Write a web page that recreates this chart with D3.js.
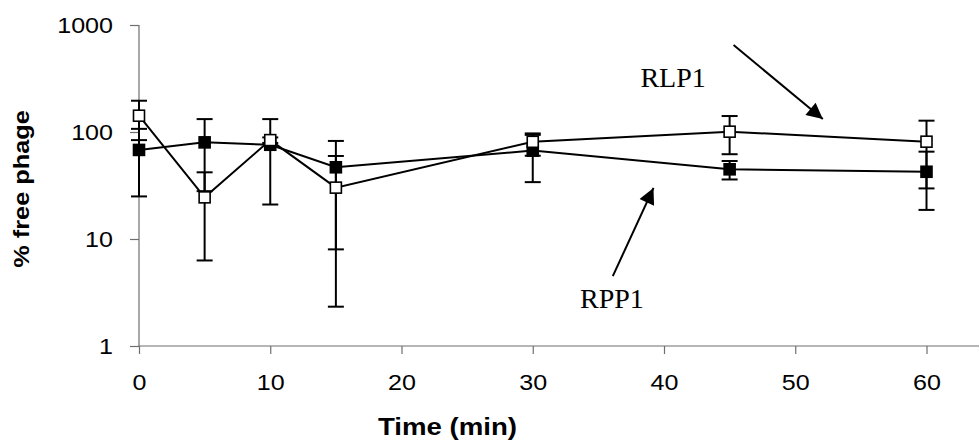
<!DOCTYPE html>
<html>
<head>
<meta charset="utf-8">
<script src="https://cdn.jsdelivr.net/npm/d3@7"></script>
<style>
  html, body { margin: 0; padding: 0; background: #fff; }
  svg { display: block; }
</style>
</head>
<body>
<svg id="chart" width="979" height="443"></svg>
<script>
// ---- data ----
const times = [0, 5, 10, 15, 30, 45, 60];
const rpp1Mean = [68, 80, 76, 46.8, 67, 44.8, 42.5];
const rpp1High = [107, 132, 132, 82.5, 97, 53.6, 65.5];
const rpp1Low  = [25, 28, 21, 8, 34, 36, 18.7];
const rlp1Mean = [142, 24.5, 84, 30.2, 81, 100.7, 81.2];
const rlp1High = [196, 42, 89, 59.7, 94, 141, 127.6];
const rlp1Low  = [84, 6.3, 79, 2.33, 60, 62, 29.7];
const xTicks = [0, 10, 20, 30, 40, 50, 60];
const yTicks = [1, 10, 100, 1000];
const annotations = [
  { label: "RLP1", tx: 38.2, ty: 263, x1: 45.3, y1: 650, x2: 52.1, y2: 132 },
  { label: "RPP1", tx: 33.6, ty: 2.26, x1: 36.1, y1: 4.5, x2: 39.2, y2: 30 }
];

const svg = d3.select("#chart");
const x = d3.scaleLinear().domain([0, 64]).range([139, 979]);
const y = d3.scaleLog().domain([1, 1000]).range([346, 25]);

const axisColor = "#6f6f6f";
const sans = "Liberation Sans, Arial, sans-serif";

function stretch(sel, k) {
  sel.each(function () {
    const L = this.getComputedTextLength();
    d3.select(this).attr("textLength", L * k).attr("lengthAdjust", "spacingAndGlyphs");
  });
}

// axes
const xAxis = svg.append("g").attr("transform", `translate(0,${y(1)})`)
  .call(d3.axisBottom(x).tickValues(xTicks).tickSize(8).tickPadding(20).tickFormat(d3.format("d")));
const yAxis = svg.append("g").attr("transform", `translate(${x(0)},0)`)
  .call(d3.axisLeft(y).tickValues(yTicks).tickSize(9).tickPadding(17).tickFormat(d3.format("d")));
[xAxis, yAxis].forEach(g => {
  g.select(".domain").attr("stroke", axisColor).attr("stroke-width", 1.2);
  g.selectAll(".tick line").attr("stroke", axisColor).attr("stroke-width", 1.2);
  g.selectAll(".tick text").attr("fill", "#000")
    .style("font-family", sans).style("font-size", "22px").call(stretch, 1.14);
});
xAxis.select(".domain").attr("d", `M${x(0)},0H${x(64)}`);
yAxis.select(".domain").attr("d", `M0,${y(1000)}V${y(1)}`);

// titles
svg.append("text").attr("x", x(23.5)).attr("y", 435).attr("text-anchor", "middle")
  .style("font-family", sans).style("font-weight", "bold").style("font-size", "23px")
  .text("Time (min)").call(stretch, 1.2);
svg.append("text").attr("transform", `translate(29,189) rotate(-90)`).attr("text-anchor", "middle")
  .style("font-family", sans).style("font-weight", "bold").style("font-size", "22px")
  .text("% free phage").call(stretch, 1.15);

function drawSeries(mean, low, high, filled) {
  const g = svg.append("g");
  const pts = times.map((t, i) => ({ t, m: mean[i], lo: low[i], hi: high[i] }));
  const capW = 8;
  pts.forEach(p => {
    g.append("line").attr("x1", x(p.t)).attr("x2", x(p.t)).attr("y1", y(p.lo)).attr("y2", y(p.hi))
      .attr("stroke", "#000").attr("stroke-width", 2);
    [p.lo, p.hi].forEach(v => g.append("line").attr("x1", x(p.t) - capW).attr("x2", x(p.t) + capW)
      .attr("y1", y(v)).attr("y2", y(v)).attr("stroke", "#000").attr("stroke-width", 2));
  });
  g.append("path").datum(pts)
    .attr("d", d3.line().x(p => x(p.t)).y(p => y(p.m)))
    .attr("fill", "none").attr("stroke", "#000").attr("stroke-width", 2);
  const s = 11;
  g.selectAll("rect").data(pts).join("rect")
    .attr("x", p => x(p.t) - s / 2).attr("y", p => y(p.m) - s / 2)
    .attr("width", s).attr("height", s)
    .attr("fill", filled ? "#000" : "#fff").attr("stroke", "#000").attr("stroke-width", 1.6);
}
drawSeries(rpp1Mean, rpp1Low, rpp1High, true);
drawSeries(rlp1Mean, rlp1Low, rlp1High, false);

// annotations
svg.append("defs").append("marker").attr("id", "ah")
  .attr("viewBox", "0 0 10 10").attr("refX", 10).attr("refY", 5)
  .attr("markerWidth", 9).attr("markerHeight", 8).attr("markerUnits", "strokeWidth")
  .attr("orient", "auto")
  .append("path").attr("d", "M0,0L10,5L0,10Z").attr("fill", "#000");
annotations.forEach(a => {
  svg.append("line").attr("x1", x(a.x1)).attr("y1", y(a.y1)).attr("x2", x(a.x2)).attr("y2", y(a.y2))
    .attr("stroke", "#000").attr("stroke-width", 2).attr("marker-end", "url(#ah)");
  svg.append("text").attr("x", x(a.tx)).attr("y", y(a.ty))
    .style("font-family", "Liberation Serif, Times New Roman, serif").style("font-size", "28px")
    .text(a.label);
});
</script>
</body>
</html>
